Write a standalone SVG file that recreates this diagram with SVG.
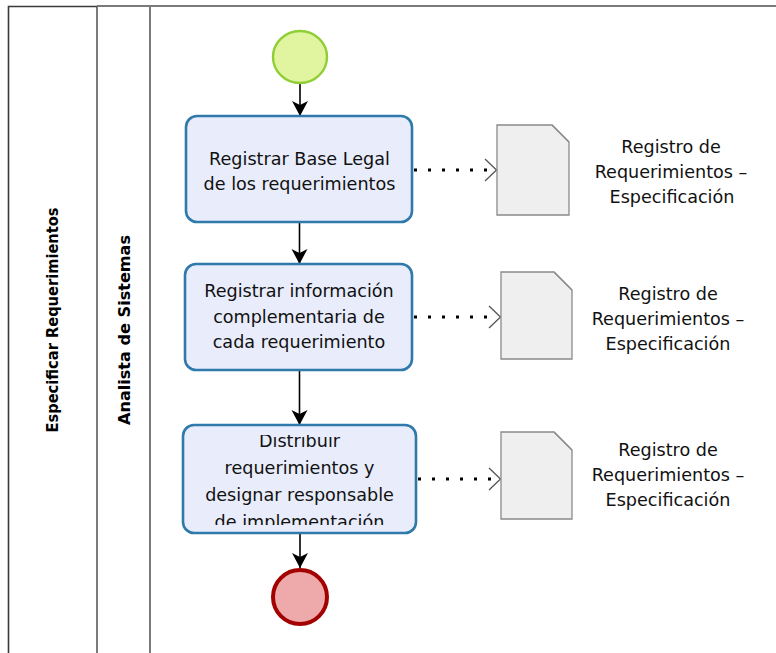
<svg xmlns="http://www.w3.org/2000/svg" width="776" height="653" viewBox="0 0 776 653">
  <defs>
    <style>
      .lane { fill: none; stroke: #7a7a7a; stroke-width: 2; }
      .pool { fill: none; stroke: #3a3a3a; stroke-width: 1.6; }
      .lbl { font-family: "DejaVu Sans", Tahoma, sans-serif; font-weight: bold; font-size: 16px; fill: #000; text-anchor: middle; }
      .task rect { fill: #e8ecfb; stroke: #2f7aab; stroke-width: 2.6; }
      .task text, .doc text { font-family: "DejaVu Sans", Tahoma, sans-serif; font-size: 17.6px; fill: #111; text-anchor: middle; }
      .doc path.body { fill: #efefef; stroke: #8a8a8a; stroke-width: 1.3; }
      .doc path.fold { fill: none; stroke: #8a8a8a; stroke-width: 1.3; }
      .flow { stroke: #000; stroke-width: 1.6; fill: none; marker-end: url(#solidArrow); }
      .assoc { stroke: #000; stroke-width: 3; stroke-dasharray: 3 11; fill: none; }
      .chev { stroke: #555; stroke-width: 1.3; fill: none; }
    </style>
    <marker id="solidArrow" markerUnits="userSpaceOnUse" markerWidth="20" markerHeight="20" viewBox="-1 -10 18 20" refX="15" refY="0" orient="auto">
      <path d="M0,-8 L15,0 L0,8 L4,0 Z" fill="#000"/>
    </marker>
    <clipPath id="clipT1"><rect x="187" y="117" width="224" height="104" rx="10"/></clipPath>
    <clipPath id="clipT2"><rect x="186" y="265" width="225" height="104" rx="10"/></clipPath>
    <clipPath id="clipT3"><rect x="184" y="435" width="231" height="90"/></clipPath>
  </defs>

  <rect width="776" height="653" fill="#fff"/>

  <!-- pool and lane frame -->
  <g id="pool">
    <line class="lane" x1="97" y1="6" x2="776" y2="6"/>
    <line class="lane" x1="97" y1="6" x2="97" y2="653"/>
    <line class="lane" x1="150" y1="6" x2="150" y2="653"/>
    <polyline class="pool" points="8.5,653 8.5,6.5 97,6.5"/>
    <text class="lbl" transform="translate(58,320) rotate(-90)" textLength="225" lengthAdjust="spacingAndGlyphs">Especificar Requerimientos</text>
    <text class="lbl" transform="translate(130,330) rotate(-90)" textLength="190" lengthAdjust="spacingAndGlyphs">Analista de Sistemas</text>
  </g>

  <!-- connectors -->
  <g id="connectors">
    <line class="flow" x1="300" y1="84" x2="300" y2="116"/>
    <line class="flow" x1="299.5" y1="222" x2="299.5" y2="264"/>
    <line class="flow" x1="299.5" y1="370" x2="299.5" y2="425"/>
    <line class="flow" x1="300" y1="533" x2="300" y2="568"/>

    <line class="assoc" x1="414" y1="170" x2="494" y2="170"/>
    <polyline class="chev" points="485,159 496.5,170 485,181"/>
    <line class="assoc" x1="414" y1="317" x2="498" y2="317"/>
    <polyline class="chev" points="489,306 500.5,317 489,328"/>
    <line class="assoc" x1="418" y1="479" x2="498" y2="479"/>
    <polyline class="chev" points="489,468 500.5,479 489,490"/>
  </g>

  <!-- start event -->
  <g id="start">
    <ellipse cx="300" cy="57" rx="27" ry="26" fill="#e1f5a0" stroke="#8fce35" stroke-width="2.4"/>
  </g>

  <!-- tasks -->
  <g id="task1" class="task">
    <rect x="186" y="116" width="226" height="106" rx="11"/>
    <g clip-path="url(#clipT1)">
      <text x="299.5" y="165">Registrar Base Legal</text>
      <text x="299.5" y="190">de los requerimientos</text>
    </g>
  </g>

  <g id="task2" class="task">
    <rect x="185" y="264" width="227" height="106" rx="11"/>
    <g clip-path="url(#clipT2)">
      <text x="299" y="297">Registrar información</text>
      <text x="299" y="322.5">complementaria de</text>
      <text x="299" y="348">cada requerimiento</text>
    </g>
  </g>

  <g id="task3" class="task">
    <rect x="183" y="425" width="233" height="108" rx="11"/>
    <g clip-path="url(#clipT3)">
      <text x="299.5" y="447">Distribuir</text>
      <text x="299.5" y="474">requerimientos y</text>
      <text x="299.5" y="501">designar responsable</text>
      <text x="299.5" y="528">de implementación</text>
    </g>
  </g>

  <!-- end event -->
  <g id="end">
    <circle cx="300" cy="597" r="27" fill="#eeaaaa" stroke="#a30000" stroke-width="4"/>
  </g>

  <!-- data objects -->
  <g id="doc1" class="doc">
    <path class="body" d="M497,125 H552 L569,142 V215 H497 Z"/>
    <path class="fold" d="M552,125 L569,142"/>
    <text x="671" y="153">Registro de</text>
    <text x="671" y="178">Requerimientos –</text>
    <text x="672" y="203">Especificación</text>
  </g>

  <g id="doc2" class="doc">
    <path class="body" d="M501,272 H554 L572,290 V359 H501 Z"/>
    <path class="fold" d="M554,272 L572,290"/>
    <text x="668" y="300">Registro de</text>
    <text x="668" y="325">Requerimientos –</text>
    <text x="668" y="350">Especificación</text>
  </g>

  <g id="doc3" class="doc">
    <path class="body" d="M501,432 H554 L572,450 V519 H501 Z"/>
    <path class="fold" d="M554,432 L572,450"/>
    <text x="668" y="456">Registro de</text>
    <text x="668" y="481">Requerimientos –</text>
    <text x="668" y="506">Especificación</text>
  </g>
</svg>
